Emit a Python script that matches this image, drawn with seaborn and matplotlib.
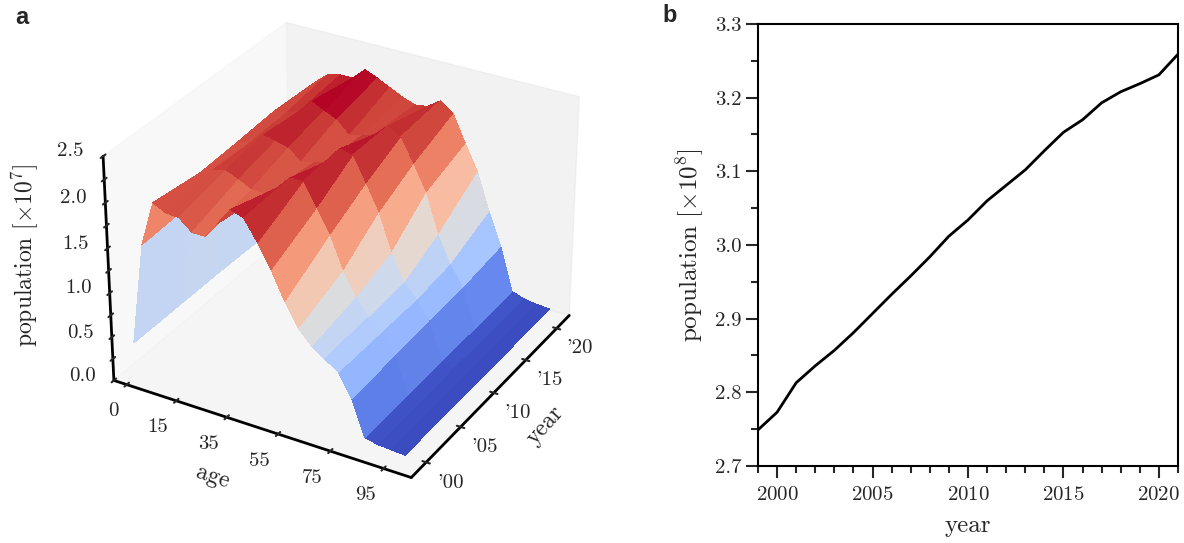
import numpy as np
import pandas as pd
import matplotlib
matplotlib.use("Agg")
import matplotlib.pyplot as plt
import seaborn as sns
from matplotlib.ticker import MultipleLocator

# ---------------- data ----------------
# panel a: population by age group (x 10^7); groups: <1, 1-4, 5-9, ..., 95-99, 100+
age_index = list(range(22))
age_tick_pos = [0, 4, 8, 12, 16, 20]
age_tick_labels = ["0", "15", "35", "55", "75", "95"]
surf_years = [1999, 2005, 2010, 2015, 2021]
pop_1999 = [0.40, 1.55, 2.05, 1.98, 1.97, 1.85, 1.85, 2.03, 2.22, 2.17, 1.95,
            1.70, 1.40, 1.15, 1.00, 0.90, 0.80, 0.55, 0.16, 0.13, 0.12, 0.11]
pop_2005 = [0.40, 1.58, 1.98, 2.05, 2.08, 2.02, 1.95, 1.95, 2.05, 2.20, 2.20,
            1.95, 1.70, 1.35, 1.10, 0.92, 0.80, 0.58, 0.17, 0.13, 0.12, 0.11]
pop_2010 = [0.40, 1.60, 2.00, 2.03, 2.15, 2.12, 2.08, 1.97, 2.00, 2.05, 2.23,
            2.20, 1.93, 1.65, 1.25, 0.95, 0.80, 0.60, 0.18, 0.14, 0.12, 0.11]
pop_2015 = [0.39, 1.58, 2.03, 2.05, 2.10, 2.25, 2.18, 2.12, 1.98, 2.02, 2.07,
            2.20, 2.12, 1.86, 1.58, 1.15, 0.85, 0.62, 0.18, 0.14, 0.12, 0.11]
pop_2021 = [0.38, 1.55, 2.00, 2.12, 2.15, 2.15, 2.28, 2.22, 2.15, 2.08, 2.03,
            2.05, 2.15, 2.05, 1.75, 1.47, 1.05, 0.68, 0.19, 0.14, 0.12, 0.11]
year_tick_pos = [2000, 2005, 2010, 2015, 2020]
year_tick_labels = ["'00", "'05", "'10", "'15", "'20"]

# panel b: total population (x 10^8)
years = list(range(1999, 2022))
total_pop = [2.749, 2.773, 2.813, 2.836, 2.857, 2.881, 2.907, 2.933, 2.958,
             2.984, 3.012, 3.034, 3.060, 3.081, 3.102, 3.128, 3.153, 3.170,
             3.193, 3.208, 3.219, 3.231, 3.259]

# ---------------- style ----------------
sns.set_style("ticks")
plt.rcParams["font.family"] = ["cmr10", "DejaVu Serif"]
plt.rcParams["mathtext.fontset"] = "cm"
plt.rcParams["axes.formatter.use_mathtext"] = True
plt.rcParams["axes.unicode_minus"] = False

W, H = 1184, 543
fig = plt.figure(figsize=(W / 100, H / 100), dpi=100)

# ---------------- panel a (3D surface) ----------------
ax3 = fig.add_axes([0.013, 0.059, 0.546, 0.975], projection="3d")
Z = np.array([pop_1999, pop_2005, pop_2010, pop_2015, pop_2021])
X, Y = np.meshgrid(np.array(age_index), np.array(surf_years))
ax3.plot_surface(X, Y, Z, cmap="coolwarm", linewidth=0, antialiased=False,
                 rcount=200, ccount=200)
ax3.set_xlim(-1.05, 22.05)
ax3.set_ylim(1997.9, 2022.1)
ax3.set_zlim(0, 2.5)
ax3.view_init(elev=30, azim=-60)
ax3.grid(False)
ax3.zaxis.set_ticks_position("lower")
ax3.zaxis.set_label_position("lower")
ax3.set_xticks(age_tick_pos)
ax3.set_xticklabels(age_tick_labels, ha="right")
ax3.set_yticks(year_tick_pos)
ax3.set_yticklabels(year_tick_labels, ha="left")
zt = np.arange(0, 2.51, 0.25)
ax3.set_zticks(zt)
ax3.set_zticklabels([f"{v:.1f}" if i % 2 == 0 else "" for i, v in enumerate(zt)],
                    va="bottom")
for axis in (ax3.xaxis, ax3.yaxis, ax3.zaxis):
    axis.line.set_color("black")
    axis.line.set_linewidth(2)
    axis._axinfo["tick"]["inward_factor"] = 0.15
    axis._axinfo["tick"]["outward_factor"] = 0.15
    axis._axinfo["tick"]["linewidth"] = {True: 1.5, False: 1.0}
    axis._axinfo["tick"]["color"] = "black"
ax3.tick_params(axis="x", labelsize=15, pad=1)
ax3.tick_params(axis="y", labelsize=15, pad=-1)
ax3.tick_params(axis="z", labelsize=15, pad=5)
ax3.set_xlabel("")
ax3.set_ylabel("")
ax3.set_zlabel("")
fig.text(213 / W, 1 - 477 / H, "age", fontsize=17, rotation=-18.5,
         ha="center", va="center", rotation_mode="anchor")
fig.text(545 / W, 1 - 425 / H, "year", fontsize=17, rotation=48,
         ha="center", va="center", rotation_mode="anchor")
fig.text(25 / W, 1 - 255 / H, r"population $[\times 10^7]$", fontsize=17,
         rotation=90, ha="center", va="center", rotation_mode="anchor")

# ---------------- panel b (line) ----------------
ax = fig.add_axes([758 / W, 1 - 466 / H, 420 / W, 442 / H])
df = pd.DataFrame({"year": years, "population": total_pop})
sns.lineplot(data=df, x="year", y="population", color="black", linewidth=2, ax=ax)
ax.set_xlim(1999, 2021)
ax.set_ylim(2.7, 3.3)
ax.xaxis.set_major_locator(MultipleLocator(5))
ax.xaxis.set_minor_locator(MultipleLocator(1))
ax.yaxis.set_major_locator(MultipleLocator(0.1))
ax.yaxis.set_minor_locator(MultipleLocator(0.05))
ax.yaxis.set_major_formatter(matplotlib.ticker.FormatStrFormatter("%.1f"))
ax.tick_params(which="major", length=8.5, width=1.5, labelsize=15, direction="out")
ax.tick_params(axis="x", which="major", pad=6)
ax.tick_params(which="minor", length=5, width=1.5, direction="out")
for s in ax.spines.values():
    s.set_linewidth(1.5)
    s.set_color("black")
ax.set_xlabel("year", fontsize=18, labelpad=8)
ax.set_ylabel(r"population $[\times 10^8]$", fontsize=18, labelpad=6)

# panel letters
fig.text(15 / W, 1 - 18 / H, "a", fontsize=17, fontweight="bold",
         family=["Liberation Sans", "DejaVu Sans"], va="center", ha="left")
fig.text(662 / W, 1 - 16 / H, "b", fontsize=17, fontweight="bold",
         family=["Liberation Sans", "DejaVu Sans"], va="center", ha="left")

fig.savefig("out.png", dpi=100)
